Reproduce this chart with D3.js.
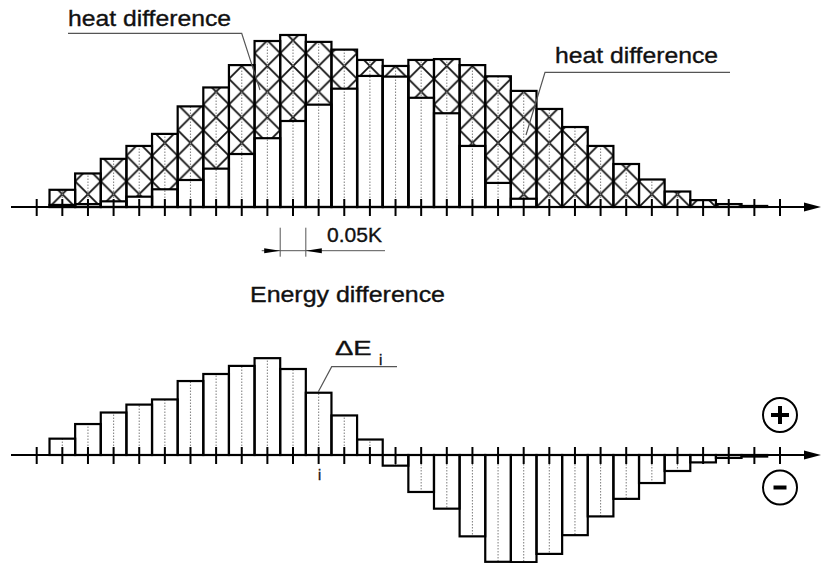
<!DOCTYPE html>
<html>
<head>
<meta charset="utf-8">
<script src="https://cdn.jsdelivr.net/npm/d3@7"></script>
<style>
  html, body { margin: 0; padding: 0; background: #fff; }
  svg { display: block; }
  text { font-family: "Liberation Sans", Arial, Helvetica, sans-serif; fill: #111; stroke: #111; stroke-width: 0.35; }
</style>
</head>
<body>
<svg id="chart" width="822" height="563"></svg>
<script>
// Temperature bins (K); bars sit on bins 1..28, axis ticks run over bins 0..29
const binWidth = 0.05;
const tickCount = 30;

// Upper chart: total height of each bin and the lower (unhatched) part
const heatTotal = [10, 19.5, 28, 35.5, 42.5, 58.5, 69.5, 82.5, 96.5, 100, 96, 91.5, 85.5, 82,
                   85.5, 86, 82.5, 76, 67.5, 57, 46.5, 35.5, 25, 16, 9, 4, 1.7, 0.6];
const heatBase  = [1.2, 1.7, 3.3, 6, 10.3, 15.7, 22.3, 30.8, 40, 50, 59.5, 68.8, 76.2, 75.8,
                   63.5, 54.5, 35.5, 14, 4.8, 0, 0, 0, 0, 0, 0, 0, 0, 0];

// Lower chart: energy difference per bin
const deltaE = [9.5, 18, 24.7, 29.3, 32.3, 43, 47.1, 51.8, 56.3, 50, 36.2, 23, 9,
                -6.2, -21.5, -31.2, -47.3, -62.1, -62.3, -57.5, -46.6, -35.7, -25.5, -16.3, -9.3, -4.3, -1.7, -0.9];

const svg = d3.select("#chart");
const ink = "#000";
const leaderColor = "#555";

const x = d3.scaleLinear().domain([0, (tickCount - 1) * binWidth]).range([36.7, 780]);
const bw = x(binWidth) - x(0);
const yTop = d3.scaleLinear().domain([0, 100]).range([207, 35]);
const yBot = d3.scaleLinear().domain([0, 100]).range([455, 283]);

const binT = heatTotal.map((_, i) => (i + 1) * binWidth);
const tickT = d3.range(tickCount).map(k => k * binWidth);

// Cross-hatch pattern aligned to the bin edges
const defs = svg.append("defs");
const pat = defs.append("pattern")
  .attr("id", "xhatch")
  .attr("patternUnits", "userSpaceOnUse")
  .attr("width", bw).attr("height", bw)
  .attr("x", x(0.5 * binWidth)).attr("y", yTop(0));
pat.append("rect").attr("width", bw).attr("height", bw).attr("fill", "#fff");
pat.append("path")
  .attr("d", `M0,0L${bw},${bw}M${bw},0L0,${bw}`)
  .attr("stroke", "#111").attr("stroke-width", 1.8).attr("fill", "none");

function drawAxis(y0) {
  const g = svg.append("g");
  g.append("line")
    .attr("x1", 11).attr("x2", 806).attr("y1", y0).attr("y2", y0)
    .attr("stroke", ink).attr("stroke-width", 2);
  g.append("path")
    .attr("d", `M804,${y0 - 4.5}L821,${y0}L804,${y0 + 4.5}Z`)
    .attr("fill", ink);
  g.selectAll("line.tick").data(tickT).join("line")
    .attr("class", "tick")
    .attr("x1", d => x(d)).attr("x2", d => x(d))
    .attr("y1", y0 - 8).attr("y2", y0 + 9)
    .attr("stroke", ink).attr("stroke-width", 2);
}

// ---------- Upper chart ----------
const gHeat = svg.append("g");
// unhatched lower parts
gHeat.selectAll("rect.base").data(binT.map((t, i) => ({ t, v: heatBase[i] })).filter(d => d.v > 0))
  .join("rect").attr("class", "base")
  .attr("x", d => x(d.t) - bw / 2).attr("width", bw)
  .attr("y", d => yTop(d.v)).attr("height", d => yTop(0) - yTop(d.v))
  .attr("fill", "#fff");
// hatched upper parts
gHeat.selectAll("rect.diff").data(binT.map((t, i) => ({ t, lo: heatBase[i], hi: heatTotal[i] })))
  .join("rect").attr("class", "diff")
  .attr("x", d => x(d.t) - bw / 2).attr("width", bw)
  .attr("y", d => yTop(d.hi)).attr("height", d => yTop(d.lo) - yTop(d.hi))
  .attr("fill", "url(#xhatch)");
// dotted bin centre lines
gHeat.selectAll("line.mid").data(binT.map((t, i) => ({ t, v: heatTotal[i] })))
  .join("line").attr("class", "mid")
  .attr("x1", d => x(d.t)).attr("x2", d => x(d.t))
  .attr("y1", yTop(0)).attr("y2", d => yTop(d.v))
  .attr("stroke", "#888").attr("stroke-width", 1.1).attr("stroke-dasharray", "1.5,1.5");
// outlines
gHeat.selectAll("rect.outB").data(binT.map((t, i) => ({ t, v: heatBase[i] })).filter(d => d.v > 0))
  .join("rect").attr("class", "outB")
  .attr("x", d => x(d.t) - bw / 2).attr("width", bw)
  .attr("y", d => yTop(d.v)).attr("height", d => yTop(0) - yTop(d.v))
  .attr("fill", "none").attr("stroke", ink).attr("stroke-width", 2.2);
gHeat.selectAll("rect.outT").data(binT.map((t, i) => ({ t, v: heatTotal[i] })))
  .join("rect").attr("class", "outT")
  .attr("x", d => x(d.t) - bw / 2).attr("width", bw)
  .attr("y", d => yTop(d.v)).attr("height", d => yTop(0) - yTop(d.v))
  .attr("fill", "none").attr("stroke", ink).attr("stroke-width", 2.2);
drawAxis(yTop(0));

// ---------- Lower chart ----------
const gEnergy = svg.append("g");
const eData = binT.map((t, i) => ({ t, v: deltaE[i] }));
gEnergy.selectAll("rect.e").data(eData).join("rect").attr("class", "e")
  .attr("x", d => x(d.t) - bw / 2).attr("width", bw)
  .attr("y", d => Math.min(yBot(d.v), yBot(0)))
  .attr("height", d => Math.abs(yBot(d.v) - yBot(0)))
  .attr("fill", "#fff");
gEnergy.selectAll("line.mid").data(eData).join("line").attr("class", "mid")
  .attr("x1", d => x(d.t)).attr("x2", d => x(d.t))
  .attr("y1", yBot(0)).attr("y2", d => yBot(d.v))
  .attr("stroke", "#888").attr("stroke-width", 1.1).attr("stroke-dasharray", "1.5,1.5");
gEnergy.selectAll("rect.eo").data(eData).join("rect").attr("class", "eo")
  .attr("x", d => x(d.t) - bw / 2).attr("width", bw)
  .attr("y", d => Math.min(yBot(d.v), yBot(0)))
  .attr("height", d => Math.abs(yBot(d.v) - yBot(0)))
  .attr("fill", "none").attr("stroke", ink).attr("stroke-width", 2.2);
drawAxis(yBot(0));

// ---------- Annotations ----------
const ann = svg.append("g");
function leader(pts) {
  ann.append("path").attr("d", d3.line()(pts))
    .attr("fill", "none").attr("stroke", leaderColor).attr("stroke-width", 1.2);
}
ann.append("text").attr("x", 68).attr("y", 26).attr("font-size", 22)
  .attr("textLength", 163).attr("lengthAdjust", "spacingAndGlyphs").text("heat difference");
leader([[68, 33.3], [241.7, 33.3], [260, 90]]);
ann.append("text").attr("x", 555).attr("y", 62.5).attr("font-size", 22)
  .attr("textLength", 163).attr("lengthAdjust", "spacingAndGlyphs").text("heat difference");
leader([[730, 72.3], [545, 72.3], [526, 135]]);

// bin width dimension
const e1 = x(9.5 * binWidth), e2 = x(10.5 * binWidth);
[e1, e2].forEach(ex => ann.append("line")
  .attr("x1", ex).attr("x2", ex).attr("y1", 227.7).attr("y2", 256.7)
  .attr("stroke", leaderColor).attr("stroke-width", 1));
ann.append("line").attr("x1", 261.7).attr("x2", 385).attr("y1", 250.7).attr("y2", 250.7)
  .attr("stroke", leaderColor).attr("stroke-width", 1);
ann.append("path").attr("d", `M${e1 - 16},248.2L${e1},250.7L${e1 - 16},253.2Z`).attr("fill", ink);
ann.append("path").attr("d", `M${e2 + 16},248.2L${e2},250.7L${e2 + 16},253.2Z`).attr("fill", ink);
ann.append("text").attr("x", 327).attr("y", 242.3).attr("font-size", 20)
  .attr("textLength", 55).attr("lengthAdjust", "spacingAndGlyphs").text("0.05K");

ann.append("text").attr("x", 250).attr("y", 301.5).attr("font-size", 22)
  .attr("textLength", 195).attr("lengthAdjust", "spacingAndGlyphs").text("Energy difference");

ann.append("text").attr("x", 335).attr("y", 355).attr("font-size", 21)
  .attr("textLength", 36.7).attr("lengthAdjust", "spacingAndGlyphs").text("ΔE");
ann.append("text").attr("x", 380.7).attr("y", 365).attr("font-size", 15)
  .attr("text-anchor", "middle").text("i");
leader([[397, 366.7], [331.7, 366.7], [318.3, 391.7]]);
ann.append("text").attr("x", x(11 * binWidth) + 1).attr("y", 480).attr("font-size", 14)
  .attr("text-anchor", "middle").text("i");

// sign markers
const sx = x(29 * binWidth);
[[415, "plus"], [487.5, "minus"]].forEach(([cy, kind]) => {
  ann.append("circle").attr("cx", sx).attr("cy", cy).attr("r", 17)
    .attr("fill", "none").attr("stroke", ink).attr("stroke-width", 2);
  ann.append("line").attr("x1", sx - (kind === "plus" ? 9 : 6.5)).attr("x2", sx + (kind === "plus" ? 9 : 6.5))
    .attr("y1", cy).attr("y2", cy).attr("stroke", ink).attr("stroke-width", 4);
  if (kind === "plus") {
    ann.append("line").attr("x1", sx).attr("x2", sx).attr("y1", cy - 9).attr("y2", cy + 9)
      .attr("stroke", ink).attr("stroke-width", 4);
  }
});
</script>
</body>
</html>
